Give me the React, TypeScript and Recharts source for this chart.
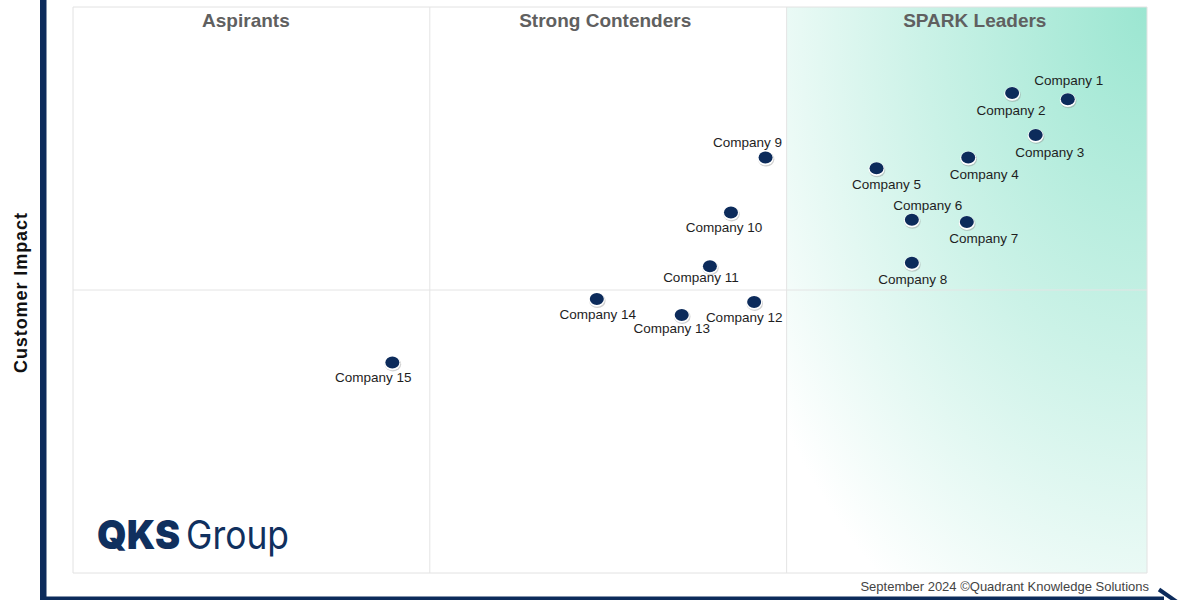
import React from 'react';
import {
  ScatterChart,
  Scatter,
  XAxis,
  YAxis,
  ReferenceArea,
  ReferenceLine,
  Customized,
} from 'recharts';

// ---- data ----
const companies = [
  'Company 1', 'Company 2', 'Company 3', 'Company 4', 'Company 5',
  'Company 6', 'Company 7', 'Company 8', 'Company 9', 'Company 10',
  'Company 11', 'Company 12', 'Company 13', 'Company 14', 'Company 15',
];
const technologyExcellence = [
  27.88, 26.32, 26.98, 25.09, 22.52,
  23.51, 25.05, 23.51, 19.41, 18.44,
  17.85, 19.09, 17.06, 14.68, 8.95,
];
const customerImpact = [
  8.37, 8.48, 7.74, 7.34, 7.15,
  6.24, 6.20, 5.48, 7.34, 6.37,
  5.42, 4.79, 4.56, 4.84, 3.72,
];
const quadrantTitles = ['Aspirants', 'Strong Contenders', 'SPARK Leaders'];
const columnBounds = [0, 10, 20, 30.1];
const yDomain = [0, 10];
const yMid = 5;
const yAxisTitle = 'Customer Impact';
const footerText = 'September 2024 \u00A9Quadrant Knowledge Solutions';

const data = companies.map((name, i) => ({
  name,
  x: technologyExcellence[i],
  y: customerImpact[i],
}));

// ---- label placement (style) ----
const labelOffsets: Record<string, [number, number]> = {
  'Company 1': [1, -14],
  'Company 2': [-1, 22],
  'Company 3': [14, 22],
  'Company 4': [16, 21],
  'Company 5': [10, 21],
  'Company 6': [16, -10],
  'Company 7': [17, 21],
  'Company 8': [1, 21],
  'Company 9': [-18, -11],
  'Company 10': [-7, 20],
  'Company 11': [-9, 16],
  'Company 12': [-10, 20],
  'Company 13': [-10, 18],
  'Company 14': [1, 20],
  'Company 15': [-19, 20],
};
const headerOffsets = [-5.5, -3, 8];

const NAVY = '#0c2b5b';
const FONT = '"Liberation Sans", Arial, Helvetica, sans-serif';

const CompanyDot = (props: any) => {
  const { cx, cy, payload } = props;
  if (cx == null || cy == null) return null;
  const [dx, dy] = labelOffsets[payload.name] ?? [0, 20];
  return (
    <g>
      <ellipse cx={cx + 0.6} cy={cy + 1.8} rx={8.2} ry={7.2} fill="#8a8a8a" opacity={0.4} />
      <ellipse cx={cx} cy={cy + 0.8} rx={8} ry={7} fill="#ffffff" />
      <ellipse cx={cx} cy={cy} rx={7} ry={6} fill={NAVY} />
      <text
        x={cx + dx}
        y={cy + dy}
        textAnchor="middle"
        fontSize={13.5}
        fill="#1e1e1e"
        fontFamily={FONT}
      >
        {payload.name}
      </text>
    </g>
  );
};

const makeHeader = (title: string, offset: number) => (props: any) => {
  const vb = props.viewBox || {};
  const x = (vb.x ?? 0) + (vb.width ?? 0) / 2 + offset;
  const y = (vb.y ?? 0) + 20;
  return (
    <text
      x={x}
      y={y}
      textAnchor="middle"
      fontSize={19}
      fontWeight="bold"
      fill="#606060"
      fontFamily={FONT}
    >
      {title}
    </text>
  );
};

const Defs = () => (
  <defs>
    <radialGradient id="sparkGrad" cx="1" cy="0" r="1.25" fx="1" fy="0">
      <stop offset="0" stopColor="#9be6d1" />
      <stop offset="0.5" stopColor="#cbf2e7" />
      <stop offset="1" stopColor="#ffffff" />
    </radialGradient>
  </defs>
);

const Decor = () => (
  <g>
    {/* axis frame */}
    <rect x={40} y={0} width={6.5} height={600} fill={NAVY} />
    <rect x={40} y={596.5} width={1124} height={3.5} fill={NAVY} />
    <line x1={1159} y1={589.5} x2={1177} y2={602} stroke={NAVY} strokeWidth={4} />
    {/* y axis title */}
    <text
      x={0}
      y={0}
      transform="translate(27, 293) rotate(-90)"
      textAnchor="middle"
      fontSize={18}
      fontWeight="bold"
      fill="#111"
      fontFamily={FONT}
      textLength={160}
      lengthAdjust="spacing"
    >
      {yAxisTitle}
    </text>
    {/* logo */}
    <text
      x={97}
      y={549}
      fontSize={40}
      fontWeight={900}
      fill="#10305e"
      fontFamily="Inter, Lato, sans-serif"
      textLength={83}
      lengthAdjust="spacingAndGlyphs"
    >
      QKS
    </text>
    <text
      x={186}
      y={549}
      fontSize={39}
      fontWeight={400}
      fill="#10305e"
      fontFamily="Inter, Lato, sans-serif"
      textLength={103}
      lengthAdjust="spacingAndGlyphs"
    >
      Group
    </text>
    {/* footer */}
    <text
      x={1149}
      y={591}
      textAnchor="end"
      fontSize={13}
      fill="#444"
      fontFamily={FONT}
    >
      {footerText}
    </text>
  </g>
);

export default function App() {
  return (
    <div
      style={{
        position: 'absolute',
        left: 0,
        top: 0,
        width: 1200,
        height: 600,
        background: '#ffffff',
      }}
    >
      <ScatterChart
        width={1200}
        height={600}
        margin={{ top: 7, right: 53, bottom: 27, left: 73 }}
      >
        <XAxis
          type="number"
          dataKey="x"
          domain={[columnBounds[0], columnBounds[3]]}
          hide
        />
        <YAxis type="number" dataKey="y" domain={yDomain} hide />
        <Customized component={Defs} />
        <ReferenceArea
          x1={columnBounds[2]}
          x2={columnBounds[3]}
          y1={yDomain[0]}
          y2={yDomain[1]}
          fill="url(#sparkGrad)"
          fillOpacity={1}
          stroke="none"
        />
        <ReferenceArea
          x1={columnBounds[0]}
          x2={columnBounds[3]}
          y1={yDomain[0]}
          y2={yDomain[1]}
          fill="none"
          stroke="#e2e2e2"
          strokeWidth={1}
        />
        {quadrantTitles.map((t, i) => (
          <ReferenceArea
            key={t}
            x1={columnBounds[i]}
            x2={columnBounds[i + 1]}
            y1={yDomain[0]}
            y2={yDomain[1]}
            fill="none"
            stroke="none"
            label={makeHeader(t, headerOffsets[i])}
          />
        ))}
        <ReferenceLine x={columnBounds[1]} stroke="#e4e4e4" strokeWidth={1} />
        <ReferenceLine x={columnBounds[2]} stroke="#e4e4e4" strokeWidth={1} />
        <ReferenceLine y={yMid} stroke="#e4e4e4" strokeWidth={1} />
        <Scatter
          data={data}
          shape={<CompanyDot />}
          isAnimationActive={false}
        />
        <Customized component={Decor} />
      </ScatterChart>
    </div>
  );
}
